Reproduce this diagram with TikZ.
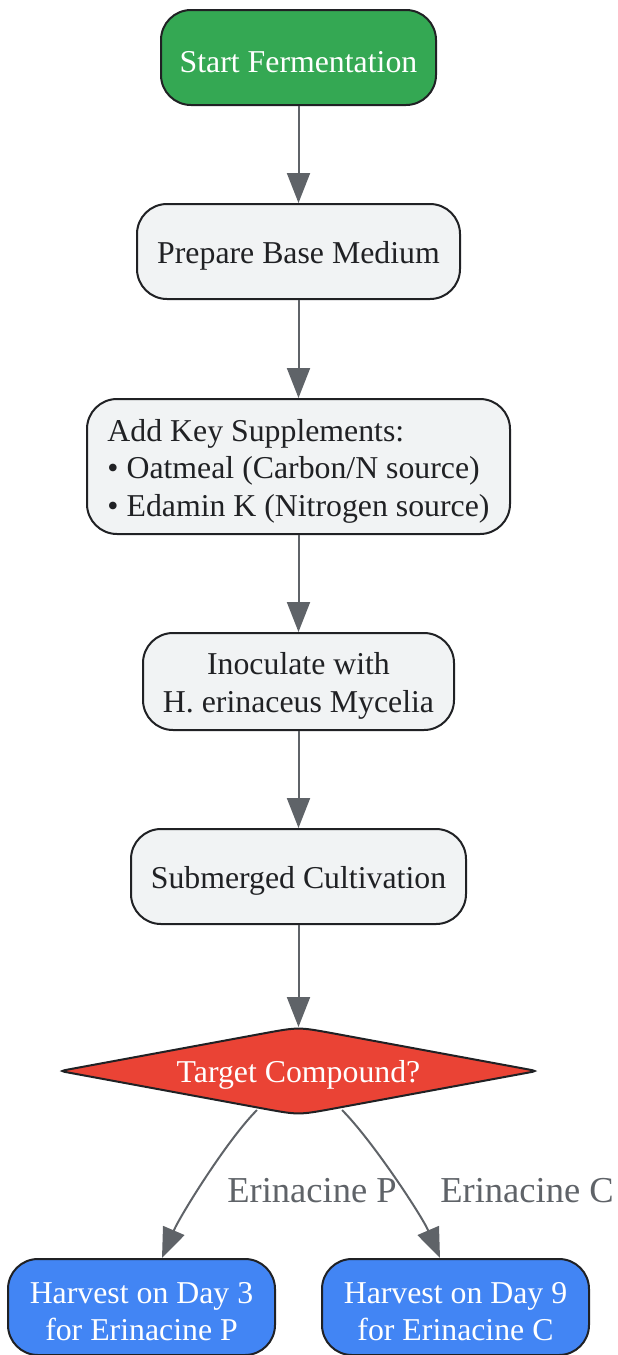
\documentclass[tikz,border=0pt]{standalone}
\usepackage{fontspec}
\setmainfont{Liberation Serif}
\usetikzlibrary{arrows.meta,calc}
\definecolor{gfill}{HTML}{F1F3F4}
\definecolor{gline}{HTML}{202124}
\definecolor{edgec}{HTML}{5F6368}
\definecolor{mygreen}{HTML}{34A853}
\definecolor{myred}{HTML}{EA4335}
\definecolor{myblue}{HTML}{4285F4}
\begin{document}
\begin{tikzpicture}[x=1pt,y=-1pt,
  box/.style={draw=gline, line width=2pt, rounded corners=30pt, inner sep=0pt, fill=gfill},
  startbox/.style={box, fill=mygreen},
  harvbox/.style={box, fill=myblue},
  txt/.style={inner sep=0pt, align=center, font=\fontsize{31.8}{37.5}\selectfont, text=gline},
  wtxt/.style={txt, text=white},
  edge/.style={draw=edgec, line width=2pt, -{Triangle[length=30pt,width=23pt]}},
  elabel/.style={inner sep=0pt, font=\fontsize{36.5}{40}\selectfont, text=edgec}]
\useasboundingbox (0,0) rectangle (618,1355);

\node[startbox, minimum width=275pt, minimum height=95pt] (start) at (298.5,57.5) {};
\node[wtxt] (startT) at ($(start)+(0,4.5)$) {Start Fermentation};
\node[box, minimum width=323pt, minimum height=95pt] (prep) at (298.5,251.5) {};
\node[txt] (prepT) at ($(prep)+(0,4.5)$) {Prepare Base Medium};
\node[box, minimum width=423pt, minimum height=135pt] (add) at (298.5,466.5) {};
\node[txt, align=left] (addT) at ($(add)+(0,4.5)$)
  {Add Key Supplements:\\ • Oatmeal (Carbon/N source)\\• Edamin K (Nitrogen source)};
\node[box, minimum width=311pt, minimum height=97pt] (inoc) at (298.5,681.5) {};
\node[txt] (inocT) at ($(inoc)+(0,4.5)$) {Inoculate with\\H. erinaceus Mycelia};
\node[box, minimum width=335pt, minimum height=95pt] (sub) at (298.5,876.5) {};
\node[txt] (subT) at ($(sub)+(0,4.5)$) {Submerged Cultivation};

% decision diamond
\begin{scope}[shift={(298.5,1071)}]
\path[fill=myred, draw=gline, line width=2pt]
  (-228.7,-1.8) -- (-34.4,-37.7) .. controls (0,-44) .. (34.4,-37.7)
  -- (228.7,-1.8) .. controls (238.5,0) .. (228.7,1.8)
  -- (34.4,37.7) .. controls (0,44) .. (-34.4,37.7)
  -- (-228.7,1.8) .. controls (-238.5,0) .. (-228.7,-1.8) -- cycle;
\end{scope}
\node[wtxt] (dia) at (298.5,1075) {Target Compound?};

\node[harvbox, minimum width=267pt, minimum height=96pt] (hp) at (141.5,1307) {};
\node[wtxt] (hpT) at ($(hp)+(0,4.5)$) {Harvest on Day 3\\for Erinacine P};
\node[harvbox, minimum width=267pt, minimum height=96pt] (hc) at (455.5,1307) {};
\node[wtxt] (hcT) at ($(hc)+(0,4.5)$) {Harvest on Day 9\\for Erinacine C};

\coordinate (dtop) at (298.5,1027);
\draw[edge] (start) -- (prep);
\draw[edge] (prep) -- (add);
\draw[edge] (add) -- (inoc);
\draw[edge] (inoc) -- (sub);
\draw[edge] (sub) -- (dtop);

\coordinate (dl) at (257,1110);
\coordinate (dr) at (342,1110);
\coordinate (hpin) at (162,1258);
\coordinate (hcin) at (440,1258);
\draw[edge] (dl) .. controls (227,1140) and (180,1216) .. (hpin);
\draw[edge] (dr) .. controls (372,1140) and (422,1216) .. (hcin);

\node[elabel] (lp) at (312,1191) {Erinacine P};
\node[elabel] (lc) at (527,1191) {Erinacine C};
\end{tikzpicture}
\end{document}
